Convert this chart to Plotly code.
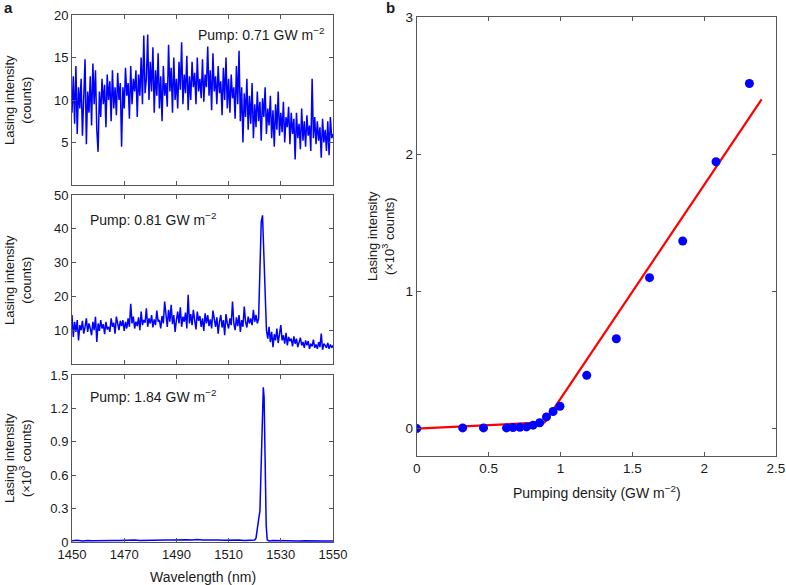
import numpy as np
import plotly.graph_objects as go

# ---------------- data ----------------
# Panel a: spectra sampled every 0.5 nm from 1450 to 1550 nm
wl_grid = np.arange(1450, 1550.001, 0.5)

spec_071 = [
    8.5, 12.8, 7.2, 14.0, 6.0, 11.5, 9.0, 12.5, 5.8, 10.5,
    14.8, 4.8, 11.0, 8.5, 12.8, 7.0, 14.3, 9.5, 13.5, 6.5,
    3.9, 11.0, 8.0, 12.5, 9.5, 11.8, 6.8, 13.0, 10.0, 12.2,
    7.5, 13.5, 9.0, 11.5, 8.2, 13.2, 10.0, 12.0, 4.5, 11.5,
    9.0, 13.8, 10.5, 12.0, 7.8, 14.0, 9.5, 12.5, 11.0, 13.5,
    8.0, 13.0, 10.5, 15.0, 9.5, 17.6, 10.8, 12.5, 17.7, 10.0,
    14.5, 11.0, 16.2, 8.5, 13.5, 10.5, 15.5, 9.0, 12.8, 7.5,
    14.0, 10.5, 12.0, 9.2, 16.5, 11.0, 13.8, 8.5, 15.0, 10.0,
    12.5, 9.0, 14.5, 11.2, 16.8, 9.5, 13.0, 10.8, 15.2, 8.8,
    12.8, 10.0, 14.5, 11.5, 13.2, 9.5, 15.0, 11.0, 12.5, 10.2,
    14.8, 9.8, 13.0, 11.5, 16.3, 10.5, 13.5, 8.8, 15.5, 11.0,
    12.8, 9.5, 14.0, 10.8, 12.2, 8.2, 13.8, 10.0, 15.0, 9.0,
    12.5, 8.5, 13.0, 10.2, 11.5, 7.8, 14.0, 9.5, 15.8, 7.5,
    11.5, 5.0, 10.8, 8.0, 12.5, 6.5, 10.5, 7.2, 12.0, 5.5,
    9.5, 6.8, 11.0, 7.5, 9.8, 5.2, 10.2, 8.0, 11.5, 6.0,
    9.0, 7.0, 10.5, 5.5, 8.8, 4.5, 9.5, 6.5, 11.0, 5.8,
    8.5, 6.2, 9.8, 5.0, 8.0, 6.8, 9.2, 4.8, 8.5, 6.0,
    7.8, 3.0, 8.5, 5.5, 7.2, 4.2, 9.0, 5.2, 7.5, 4.5,
    8.2, 5.8, 7.0, 4.0, 12.5, 5.5, 8.0, 4.8, 7.5, 5.2,
    6.8, 3.2, 7.8, 5.0, 6.5, 4.0, 7.5, 3.5, 8.0, 5.5,
    6.0,
]

spec_081 = [
    14.5, 8.0, 12.5, 9.5, 13.0, 7.0, 11.5, 10.0, 12.8, 9.0,
    11.0, 13.5, 9.5, 12.0, 10.5, 8.5, 12.5, 10.0, 14.0, 6.5,
    12.0, 9.8, 13.0, 10.5, 11.8, 8.8, 12.5, 10.2, 11.0, 9.5,
    13.5, 11.0, 12.2, 9.0, 14.0, 11.5, 10.0, 12.8, 11.2, 13.0,
    9.8, 12.5, 10.5, 13.5, 11.0, 17.8, 12.0, 14.0, 10.5, 12.5,
    11.2, 13.8, 10.0, 15.5, 11.5, 13.0, 12.2, 16.5, 11.0, 13.5,
    12.0, 14.5, 10.8, 13.2, 11.5, 15.8, 12.5, 13.0, 10.5, 14.2,
    12.0, 18.5, 13.5, 11.0, 16.0, 12.5, 17.5, 11.8, 14.5, 9.5,
    13.0, 15.5, 12.0, 16.8, 11.0, 14.0, 12.5, 15.2, 10.5, 20.5,
    12.0, 14.8, 11.5, 16.0, 13.0, 10.2, 15.5, 12.8, 14.2, 11.0,
    13.5, 9.8, 15.0, 12.0, 14.5, 11.2, 13.2, 10.5, 15.8, 12.5,
    11.0, 13.8, 9.0, 12.5, 14.5, 10.8, 13.0, 8.5, 14.8, 12.0,
    10.5, 13.5, 11.5, 18.5, 12.0, 10.0, 13.8, 11.2, 14.5, 9.5,
    13.0, 11.0, 17.0, 12.5, 10.8, 14.0, 12.0, 13.5, 11.5, 16.0,
    12.5, 14.5, 12.0, 13.5, 26.0, 42.0, 44.0, 30.0, 16.0, 10.0,
    7.5, 11.0, 6.5, 9.5, 5.0, 8.8, 7.0, 10.5, 6.2, 9.0,
    11.5, 7.0, 8.5, 6.0, 9.2, 5.5, 8.0, 6.8, 7.5, 5.2,
    8.2, 6.0, 7.5, 5.0, 6.8, 7.8, 5.5, 6.5, 4.8, 7.0,
    5.5, 6.8, 4.5, 6.0, 5.2, 7.2, 4.8, 5.8, 4.5, 6.5,
    5.0, 9.0, 4.2, 6.0, 5.5, 4.8, 6.2, 4.5, 5.8, 4.8,
    5.5,
]

wl_184 = [1450, 1452, 1454, 1456, 1458, 1460, 1462, 1464, 1466, 1468,
          1470, 1472, 1474, 1476, 1478, 1480, 1482, 1484, 1486, 1488,
          1490, 1492, 1494, 1496, 1498, 1500, 1502, 1504, 1506, 1508,
          1510, 1512, 1514, 1516, 1518, 1520, 1520.5, 1521, 1521.5,
          1522, 1522.5, 1523, 1523.3, 1523.6, 1524, 1524.4, 1524.8,
          1525.5, 1527, 1529, 1531, 1533, 1535, 1537, 1539, 1541, 1543,
          1545, 1547, 1550]
spec_184 = [0.012, 0.015, 0.010, 0.014, 0.011, 0.013, 0.016, 0.012, 0.014, 0.013,
            0.015, 0.012, 0.017, 0.014, 0.016, 0.015, 0.018, 0.016, 0.019, 0.017,
            0.020, 0.018, 0.021, 0.019, 0.022, 0.018, 0.020, 0.017, 0.019, 0.016,
            0.018, 0.015, 0.017, 0.014, 0.016, 0.018, 0.035, 0.10, 0.20,
            0.28, 0.80, 1.30, 1.39, 1.30, 0.75, 0.15, 0.02,
            0.010, 0.014, 0.012, 0.013, 0.011, 0.012, 0.010, 0.011, 0.009, 0.010,
            0.008, 0.009, 0.008]

# Panel b: lasing intensity (x10^3 counts) vs pumping density (GW m^-2)
pump = [0.0, 0.32, 0.465, 0.625, 0.67, 0.718, 0.764, 0.81, 0.856, 0.903,
        0.949, 0.997, 1.183, 1.389, 1.62, 1.851, 2.083, 2.315]
lasing = [0.0, 0.005, 0.005, 0.005, 0.007, 0.009, 0.012, 0.025, 0.042, 0.085,
          0.124, 0.163, 0.388, 0.655, 1.10, 1.367, 1.945, 2.515]
fit_x = [0.0, 0.89, 2.40]
fit_y = [0.0, 0.045, 2.40]

# ---------------- figure ----------------
W, H = 786, 585
BLUE = "#0000FF"
RED = "#FF0000"
AX = "#555555"
TXT = "#1a1a1a"
FONT = "Liberation Sans, Arial, sans-serif"

def px(x):
    return x / W

def py(y):
    return 1 - y / H

fig = go.Figure()
fig.add_trace(go.Scatter(x=wl_grid, y=spec_071, mode="lines", line=dict(color=BLUE, width=1.5),
                         xaxis="x", yaxis="y", showlegend=False))
fig.add_trace(go.Scatter(x=wl_grid, y=spec_081, mode="lines", line=dict(color=BLUE, width=1.5),
                         xaxis="x2", yaxis="y2", showlegend=False))
fig.add_trace(go.Scatter(x=wl_184, y=spec_184, mode="lines", line=dict(color=BLUE, width=1.5),
                         xaxis="x3", yaxis="y3", showlegend=False))
fig.add_trace(go.Scatter(x=fit_x, y=fit_y, mode="lines", line=dict(color=RED, width=2.2),
                         xaxis="x4", yaxis="y4", showlegend=False))
fig.add_trace(go.Scatter(x=pump, y=lasing, mode="markers",
                         marker=dict(color=BLUE, size=9, line=dict(width=0)),
                         xaxis="x4", yaxis="y4", showlegend=False))

def common(size=13):
    return dict(showline=True, linecolor=AX, linewidth=1, mirror="ticks", ticks="inside",
                ticklen=4, tickcolor=AX, showgrid=False, zeroline=False, automargin=False,
                tickfont=dict(family=FONT, size=size, color=TXT))

xa = [px(72), px(333)]
wl_ticks = [1450, 1470, 1490, 1510, 1530, 1550]
fig.update_layout(
    width=W, height=H, margin=dict(l=0, r=0, t=0, b=0),
    paper_bgcolor="white", plot_bgcolor="white",
    font=dict(family=FONT, color=TXT),
    xaxis=dict(domain=xa, range=[1450, 1550], tickvals=wl_ticks, showticklabels=False,
               anchor="y", **common()),
    yaxis=dict(domain=[py(185), py(15)], range=[0, 20], tickvals=[5, 10, 15, 20],
               anchor="x", **common()),
    xaxis2=dict(domain=xa, range=[1450, 1550], tickvals=wl_ticks, showticklabels=False,
                anchor="y2", **common()),
    yaxis2=dict(domain=[py(364), py(195)], range=[0, 50], tickvals=[10, 20, 30, 40, 50],
                anchor="x2", **common()),
    xaxis3=dict(domain=xa, range=[1450, 1550], tickvals=wl_ticks, anchor="y3", **common()),
    yaxis3=dict(domain=[py(542), py(375)], range=[0, 1.5],
                tickvals=[0, 0.3, 0.6, 0.9, 1.2, 1.5],
                ticktext=["0", "0.3", "0.6", "0.9", "1.2", "1.5"], anchor="x3", **common()),
    xaxis4=dict(domain=[px(416.7), px(776)], range=[0, 2.5],
                tickvals=[0, 0.5, 1, 1.5, 2, 2.5], ticktext=["0", "0.5", "1", "1.5", "2", "2.5"],
                anchor="y4", **common(13.5)),
    yaxis4=dict(domain=[py(456), py(17)], range=[-0.2, 3], tickvals=[0, 1, 2, 3],
                anchor="x4", **common(13.5)),
)

anns = []
def ann(x, y, text, size=13, angle=0, xanchor="center", bold=False):
    if bold:
        text = "<b>" + text + "</b>"
    anns.append(dict(x=px(x), y=py(y), xref="paper", yref="paper", text=text,
                     showarrow=False, textangle=angle, xanchor=xanchor, yanchor="middle",
                     font=dict(family=FONT, size=size, color=TXT)))

ann(2, 8, "a", size=15, xanchor="left", bold=True)
ann(384, 8, "b", size=15, xanchor="left", bold=True)
ann(18, 100, "Lasing intensity<br>(counts)", angle=-90)
ann(18, 280, "Lasing intensity<br>(counts)", angle=-90)
ann(18, 458, "Lasing intensity<br>(×10<sup>3</sup> counts)", angle=-90)
ann(381, 236, "Lasing intensity<br>(×10<sup>3</sup> counts)", angle=-90)
ann(202.5, 577, "Wavelength (nm)", size=14)
ann(596.5, 492, "Pumping density (GW m<sup>−2</sup>)", size=14)
ann(326, 34, "Pump: 0.71 GW m<sup>−2</sup>", size=14, xanchor="right")
ann(88, 219, "Pump: 0.81 GW m<sup>−2</sup>", size=14, xanchor="left")
ann(88, 396, "Pump: 1.84 GW m<sup>−2</sup>", size=14, xanchor="left")
fig.update_layout(annotations=anns)

fig.write_html("out.html", config={"displayModeBar": False},
               post_script="document.body.style.margin='0px';document.body.style.overflow='hidden';")
